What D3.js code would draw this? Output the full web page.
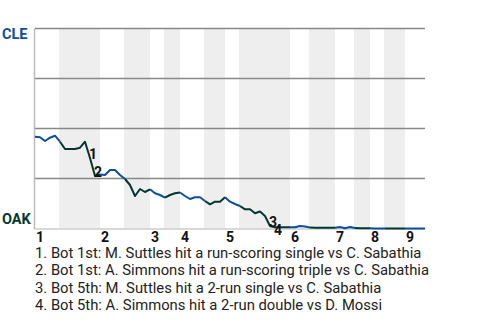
<!DOCTYPE html>
<html><head><meta charset="utf-8">
<script src="https://cdn.jsdelivr.net/npm/d3@7"></script>
<style>html,body{margin:0;padding:0;background:#fff}svg{display:block;font-family:Roboto,"Noto Sans",sans-serif}</style>
</head><body><svg id="c" width="480" height="320"></svg>
<script>
// Plate appearances per half inning (T1,B1,T2,B2,...,T9)
const halfInningPAs = [5,8,5,5,3,3,5,4,3,10,4,5,4,3,3,4,4];
const inningLabels = ["1","2","3","4","5","6","7","8","9"];
// CLE win probability after each plate appearance (index 0 = game start)
const cleWinProb = [
  0.459,0.456,0.4375,0.454,0.464,
  0.434,0.3975,0.3975,0.3975,0.404,0.434,0.3525,0.2625,
  0.27,0.2675,0.2925,0.2925,0.2675,
  0.2475,0.2175,0.1625,0.1975,0.1825,
  0.196,0.176,0.1675,
  0.154,0.1675,0.176,
  0.18,0.1625,0.1475,0.156,0.156,
  0.1375,0.121,0.134,0.134,
  0.156,0.134,0.1225,
  0.1125,0.096,0.096,0.076,0.085,0.0625,0.0125,0.006,0.006,0.006,
  0.006,0.006,0.0125,0.01,0.005,
  0.004,0.004,0.004,0.004,0.004,
  0.0075,0.001,0.0075,0.0025,
  0.001,0.001,0.001,
  0.0,0.0,0.0,
  0.0,0.0,0.0,0.0,
  0.0,0.0,0.0,0.0
];
const eventIndex = [11,12,47,48];
const eventLabels = ["1","2","3","4"];
const eventTexts = [
  "1. Bot 1st: M. Suttles hit a run-scoring single vs C. Sabathia",
  "2. Bot 1st: A. Simmons hit a run-scoring triple vs C. Sabathia",
  "3. Bot 5th: M. Suttles hit a 2-run single vs C. Sabathia",
  "4. Bot 5th: A. Simmons hit a 2-run double vs D. Mossi"
];
const teams = ["CLE","OAK"];

const awayColor = "#0d4ea1", homeColor = "#003831";
const svg = d3.select("#c");
const total = d3.sum(halfInningPAs);
const x = d3.scaleLinear().domain([0,total]).range([35,425]);
const y = d3.scaleLinear().domain([0,1]).range([228.5,28.5]);

const bounds = [0];
halfInningPAs.forEach(n => bounds.push(bounds[bounds.length-1]+n));

// bottom-half bands
const bands = [];
for (let h=1; h<halfInningPAs.length; h+=2) bands.push([bounds[h],bounds[h+1]]);
svg.append("g").selectAll("rect").data(bands).join("rect")
  .attr("x", d=>x(d[0])-1).attr("width", d=>x(d[1])-x(d[0])+1)
  .attr("y", y(1)).attr("height", y(0)-y(1)).attr("fill","#eeeeee");

// grid lines
svg.append("g").selectAll("line").data([1,0.75,0.5,0.25]).join("line")
  .attr("x1", x(0)).attr("x2", x(total)).attr("y1", d=>y(d)).attr("y2", d=>y(d))
  .attr("stroke","#888").attr("stroke-width",1.5);
svg.append("line").attr("x1",x(0)).attr("x2",x(total)).attr("y1",y(0)+0.5).attr("y2",y(0)+0.5)
  .attr("stroke","#ccc").attr("stroke-width",1.5);
svg.append("line").attr("x1",x(0)-0.5).attr("x2",x(0)-0.5).attr("y1",y(1)).attr("y2",y(0)+1)
  .attr("stroke","#bbb").attr("stroke-width",1.5);

// win probability line, coloured by batting team
const line = d3.line().x(d=>x(d[0])).y(d=>y(d[1]));
halfInningPAs.forEach((n,h) => {
  const pts = d3.range(bounds[h], bounds[h+1]+1).map(i=>[i,cleWinProb[i]]);
  svg.append("path").datum(pts).attr("d",line).attr("fill","none")
    .attr("stroke", h%2===0?awayColor:homeColor).attr("stroke-width",2)
    .attr("stroke-linejoin","round");
});

// event markers with simple collision avoidance
let prev = null;
eventIndex.forEach((ei,k) => {
  const px = x(ei)-1;
  let py = y(cleWinProb[ei])+0.5;
  if (prev && Math.abs(px-prev[0])<9 && Math.abs(py-prev[1])<9) py = prev[1]+8;
  svg.append("text").attr("x",px).attr("y",py).text(eventLabels[k])
    .attr("font-size",14).attr("font-weight","bold").attr("fill","#111");
  prev=[px,py];
});

// team labels
svg.append("text").attr("x",2).attr("y",y(1)+10.5).text(teams[0])
  .attr("font-size",14.5).attr("font-weight","bold").attr("fill",awayColor);
svg.append("text").attr("x",2).attr("y",y(0)-4.5).text(teams[1])
  .attr("font-size",14.5).attr("font-weight","bold").attr("fill",homeColor);

// inning labels
svg.append("g").selectAll("text").data(inningLabels).join("text")
  .attr("x",(d,i)=>x(bounds[i*2])+1).attr("y",242)
  .attr("font-size",14).attr("font-weight","bold").attr("fill","#111").text(d=>d);

// legend
svg.append("g").selectAll("text").data(eventTexts).join("text")
  .attr("x",35).attr("y",(d,i)=>257.7+i*17.5)
  .attr("font-size",14.8).attr("fill","#222").text(d=>d);
</script></body></html>
